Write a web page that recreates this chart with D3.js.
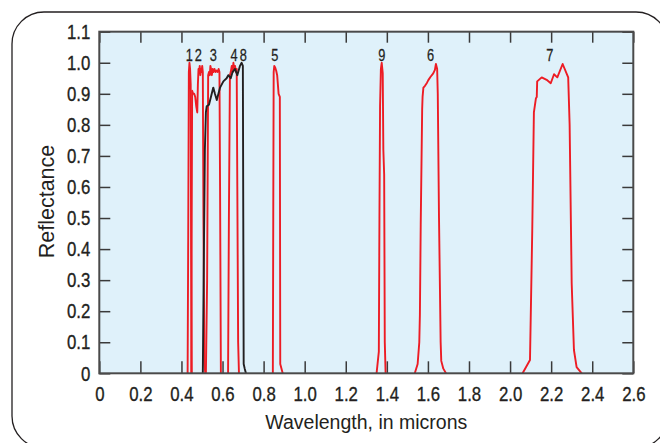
<!DOCTYPE html>
<html>
<head>
<meta charset="utf-8">
<script src="https://cdn.jsdelivr.net/npm/d3@7"></script>
<style>
  body { margin: 0; background: #fff; }
  svg { display: block; }
  .tick-label { font-family: "Liberation Sans", Arial, sans-serif; font-size: 21px; fill: #231f20; stroke: #231f20; stroke-width: 0.35px; }
  .axis-title { font-family: "Liberation Sans", Arial, sans-serif; font-size: 19.5px; fill: #231f20; }
  .band-label { font-family: "Liberation Sans", Arial, sans-serif; font-size: 16px; fill: #231f20; stroke: #231f20; stroke-width: 0.25px; }
</style>
</head>
<body>
<svg width="660" height="443"></svg>
<script>
// spectral response of each band: [wavelength in microns, reflectance]
const band1 = [[0.430,0],[0.433,0.45],[0.436,0.97],[0.439,1.0],[0.442,0.98],[0.445,0.93],[0.447,0.4],[0.450,0]];
const band2 = [[0.448,0],[0.450,0.5],[0.452,0.91],[0.457,0.90],[0.462,0.90],[0.467,0.89],[0.472,0.86],[0.477,0.84],[0.480,0.93],[0.483,0.98],[0.486,0.97],[0.489,0.99],[0.492,0.96],[0.495,0.98],[0.498,0.97],[0.501,0.99],[0.504,0.97],[0.507,0.5],[0.512,0.03],[0.516,0]];
const band3 = [[0.519,0],[0.525,0.3],[0.530,0.96],[0.534,0.97],[0.538,0.96],[0.541,0.99],[0.544,0.98],[0.548,0.96],[0.552,0.98],[0.556,0.97],[0.561,0.98],[0.566,0.97],[0.571,0.975],[0.576,0.97],[0.581,0.98],[0.585,0.97],[0.588,0.6],[0.592,0]];
const band4 = [[0.627,0],[0.631,0.5],[0.636,0.96],[0.640,0.97],[0.645,0.99],[0.649,0.97],[0.653,1.0],[0.657,0.98],[0.661,0.99],[0.665,0.97],[0.669,0.98],[0.672,0.6],[0.676,0.1],[0.680,0]];
const band5 = [[0.845,0],[0.847,0.5],[0.849,0.97],[0.852,0.99],[0.856,0.985],[0.861,0.975],[0.866,0.96],[0.873,0.90],[0.879,0.89],[0.880,0.5],[0.881,0.03],[0.893,0]];
const band6 = [[1.536,0],[1.550,0.03],[1.558,0.10],[1.561,0.19],[1.565,0.48],[1.572,0.85],[1.574,0.89],[1.578,0.92],[1.585,0.925],[1.595,0.935],[1.602,0.944],[1.613,0.955],[1.626,0.966],[1.634,0.977],[1.639,0.996],[1.645,0.98],[1.648,0.9],[1.654,0.5],[1.662,0.1],[1.665,0.04],[1.675,0.015],[1.688,0]];
const band7 = [[2.061,0],[2.097,0.043],[2.108,0.46],[2.116,0.84],[2.126,0.886],[2.130,0.89],[2.132,0.94],[2.154,0.953],[2.178,0.945],[2.198,0.934],[2.214,0.963],[2.230,0.953],[2.256,0.996],[2.283,0.953],[2.290,0.8],[2.300,0.29],[2.311,0.075],[2.324,0.02],[2.349,0]];
const band8 = [[0.504,0],[0.508,0.3],[0.514,0.72],[0.519,0.84],[0.523,0.86],[0.534,0.865],[0.555,0.92],[0.563,0.90],[0.572,0.88],[0.588,0.92],[0.604,0.94],[0.620,0.95],[0.628,0.96],[0.640,0.95],[0.649,0.97],[0.661,0.98],[0.672,0.96],[0.685,0.99],[0.693,1.0],[0.699,0.99],[0.701,0.5],[0.703,0.03],[0.708,0.015],[0.714,0]];
const band9 = [[1.350,0],[1.361,0.07],[1.364,0.5],[1.367,0.86],[1.371,0.98],[1.375,1.0],[1.380,0.967],[1.383,0.72],[1.387,0.64],[1.390,0.1],[1.394,0]];

const bandNames = ['1', '2', '3', '4', '5', '6', '7', '8', '9'];
const bandData = [band1, band2, band3, band4, band5, band6, band7, band8, band9];
// where the band number sits (wavelength)
const bandLabelX = [0.438, 0.482, 0.555, 0.656, 0.855, 1.613, 2.194, 0.701, 1.375];

const xTicks = [0, 0.2, 0.4, 0.6, 0.8, 1.0, 1.2, 1.4, 1.6, 1.8, 2.0, 2.2, 2.4, 2.6];
const yTicks = [0, 0.1, 0.2, 0.3, 0.4, 0.5, 0.6, 0.7, 0.8, 0.9, 1.0, 1.1];
const xLabel = 'Wavelength, in microns';
const yLabel = 'Reflectance';

const narrow = 0.8; // squeeze to imitate a condensed face
const margin = { left: 99.3, top: 31.7, right: 26.7, bottom: 69.7 };
const svg = d3.select('svg');
const width = +svg.attr('width');
const height = +svg.attr('height');
const innerWidth = width - margin.left - margin.right;
const innerHeight = height - margin.top - margin.bottom;

// rounded outer panel
svg.append('rect')
  .attr('x', 12).attr('y', 12)
  .attr('width', 656).attr('height', 436)
  .attr('rx', 32).attr('ry', 32)
  .attr('fill', '#fff')
  .attr('stroke', '#231f20')
  .attr('stroke-width', 1.3);

const g = svg.append('g')
  .attr('transform', `translate(${margin.left},${margin.top})`);

g.append('rect')
  .attr('width', innerWidth)
  .attr('height', innerHeight)
  .attr('fill', '#dff1fa');

const xScale = d3.scaleLinear().domain([0, 2.6]).range([0, innerWidth]);
const yScale = d3.scaleLinear().domain([0, 1.1]).range([innerHeight, 0]);

const fmt = d => d === 0 ? '0' : d.toFixed(1);

const xAxisG = g.append('g')
  .attr('transform', `translate(0,${innerHeight})`)
  .call(d3.axisBottom(xScale).tickValues(xTicks).tickFormat(fmt).tickSize(-12).tickPadding(13));
const xTopG = g.append('g')
  .call(d3.axisTop(xScale).tickValues(xTicks).tickFormat('').tickSize(-11));
const yAxisG = g.append('g')
  .call(d3.axisLeft(yScale).tickValues(yTicks).tickFormat(fmt).tickSize(-11).tickPadding(9));
const yRightG = g.append('g')
  .attr('transform', `translate(${innerWidth},0)`)
  .call(d3.axisRight(yScale).tickValues(yTicks).tickFormat('').tickSize(-11));

[xAxisG, xTopG, yAxisG, yRightG].forEach(a => {
  a.select('.domain').remove();
  a.selectAll('.tick line').attr('stroke', '#3a3a3a').attr('stroke-width', 1.5);
  a.selectAll('.tick text')
    .attr('class', 'tick-label')
    .attr('font-family', null).attr('font-size', null).attr('fill', null)
    .attr('x', function() { return (+d3.select(this).attr('x') || 0) / narrow; })
    .attr('transform', `scale(${narrow},1)`);
});

// spectral curves
const line = d3.line()
  .x(d => xScale(d[0]))
  .y(d => yScale(d[1]));

g.selectAll('path.band').data(bandData)
  .enter().append('path')
    .attr('class', 'band')
    .attr('d', line)
    .attr('fill', 'none')
    .attr('stroke', (d, i) => bandNames[i] === '8' ? '#231f20' : '#ed1c24')
    .attr('stroke-width', 1.9)
    .attr('stroke-linejoin', 'round');

g.selectAll('text.band-label').data(bandNames)
  .enter().append('text')
    .attr('class', 'band-label')
    .attr('x', (d, i) => xScale(bandLabelX[i]) / narrow)
    .attr('y', yScale(1.007))
    .attr('transform', `scale(${narrow},1)`)
    .attr('text-anchor', 'middle')
    .text(d => d);

// frame
g.append('rect')
  .attr('width', innerWidth)
  .attr('height', innerHeight)
  .attr('fill', 'none')
  .attr('stroke', '#4a4a4a')
  .attr('stroke-width', 2);

xAxisG.append('text')
  .attr('class', 'axis-title')
  .attr('x', innerWidth / 2)
  .attr('y', 56)
  .attr('text-anchor', 'middle')
  .text(xLabel);

yAxisG.append('text')
  .attr('class', 'axis-title')
  .attr('x', -innerHeight / 2 + 1)
  .attr('y', -45)
  .attr('transform', 'rotate(-90)')
  .attr('text-anchor', 'middle')
  .style('font-size', '21.5px')
  .text(yLabel);
</script>
</body>
</html>
